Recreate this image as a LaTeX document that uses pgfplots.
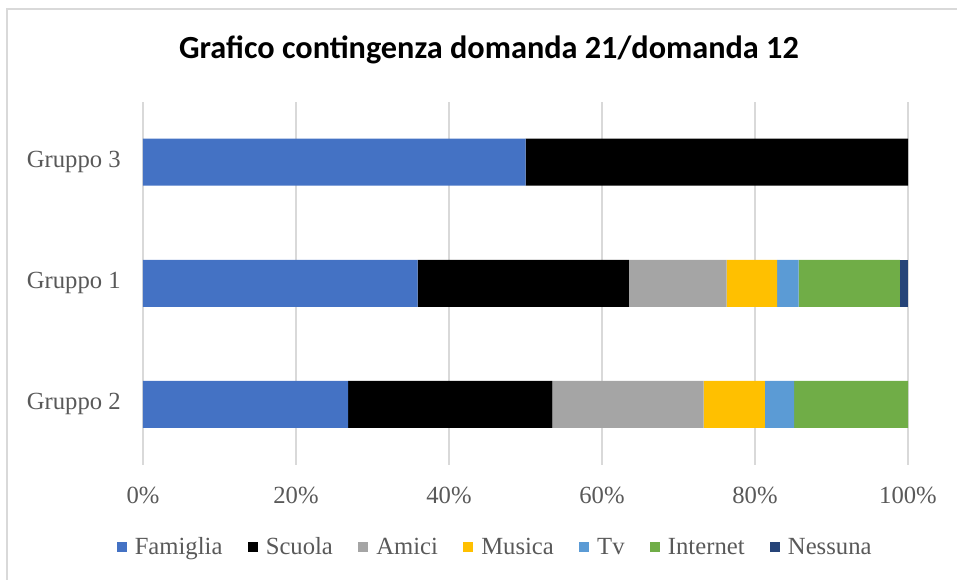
\documentclass[border=0pt]{standalone}
\usepackage{pgfplots}
\pgfplotsset{compat=1.18}
\usepackage{fontspec}
\setmainfont{Liberation Serif}
\newfontfamily\titlefont{Carlito}
\definecolor{cFam}{HTML}{4472C4}
\definecolor{cSc}{HTML}{000000}
\definecolor{cAm}{HTML}{A5A5A5}
\definecolor{cMu}{HTML}{FFC000}
\definecolor{cTv}{HTML}{5B9BD5}
\definecolor{cIn}{HTML}{70AD47}
\definecolor{cNe}{HTML}{264478}
\definecolor{txt}{HTML}{595959}
\definecolor{gridc}{HTML}{D9D9D9}
\begin{document}
\begin{tikzpicture}[x=0.75pt,y=0.75pt]
\path[use as bounding box] (0,0) rectangle (957,580);
\draw[gridc, line width=1.5pt] (7,0) -- (7,571) -- (957,571);
\node[font=\titlefont\bfseries\fontsize{24.2}{29}\selectfont] at (489,530) {Grafico contingenza domanda 21/domanda 12};
\begin{axis}[
  at={(107.25pt,86.25pt)}, anchor=south west,
  scale only axis, width=573.75pt, height=272.6pt,
  xbar stacked, bar width=35.25pt,
  xmin=0, xmax=100, ymin=-0.5, ymax=2.5,
  ytick={0,1,2}, yticklabels={Gruppo 2,Gruppo 1,Gruppo 3},
  xtick={0,20,40,60,80,100},
  xticklabel={\pgfmathprintnumber{\tick}\%},
  /pgf/number format/assume math mode=true,
  xmajorgrids, major grid style={gridc, line width=0.9pt},
  axis line style={draw=none}, tick style={draw=none},
  ticklabel style={font=\fontsize{18.5}{22}\selectfont, text=txt},
  xticklabel style={anchor=center, yshift=-22.5pt},
  yticklabel style={anchor=east, inner sep=0pt, xshift=-16.5pt},
  legend columns=-1,
  legend style={at={(0.5,0)}, anchor=center, yshift=-61.5pt, xshift=-22.5pt,
    draw=none, fill=none, font=\fontsize{18.5}{22}\selectfont, text=txt,
    /tikz/every even column/.append style={column sep=17pt},
    /tikz/every odd column/.append style={column sep=4pt}},
  legend image code/.code={\fill[#1] (0pt,-3.75pt) rectangle (7.5pt,3.75pt);},
  every axis plot/.append style={draw=none},
]
\addplot[fill=cFam] coordinates {(26.8,0) (35.9,1) (50,2)};
\addplot[fill=cSc] coordinates {(26.7,0) (27.6,1) (50,2)};
\addplot[fill=cAm] coordinates {(19.8,0) (12.8,1) (0,2)};
\addplot[fill=cMu] coordinates {(8.0,0) (6.6,1) (0,2)};
\addplot[fill=cTv] coordinates {(3.8,0) (2.8,1) (0,2)};
\addplot[fill=cIn] coordinates {(14.9,0) (13.25,1) (0,2)};
\addplot[fill=cNe] coordinates {(0,0) (1.05,1) (0,2)};
\legend{Famiglia,Scuola,Amici,Musica,Tv,Internet,Nessuna}
\end{axis}
\end{tikzpicture}
\end{document}
